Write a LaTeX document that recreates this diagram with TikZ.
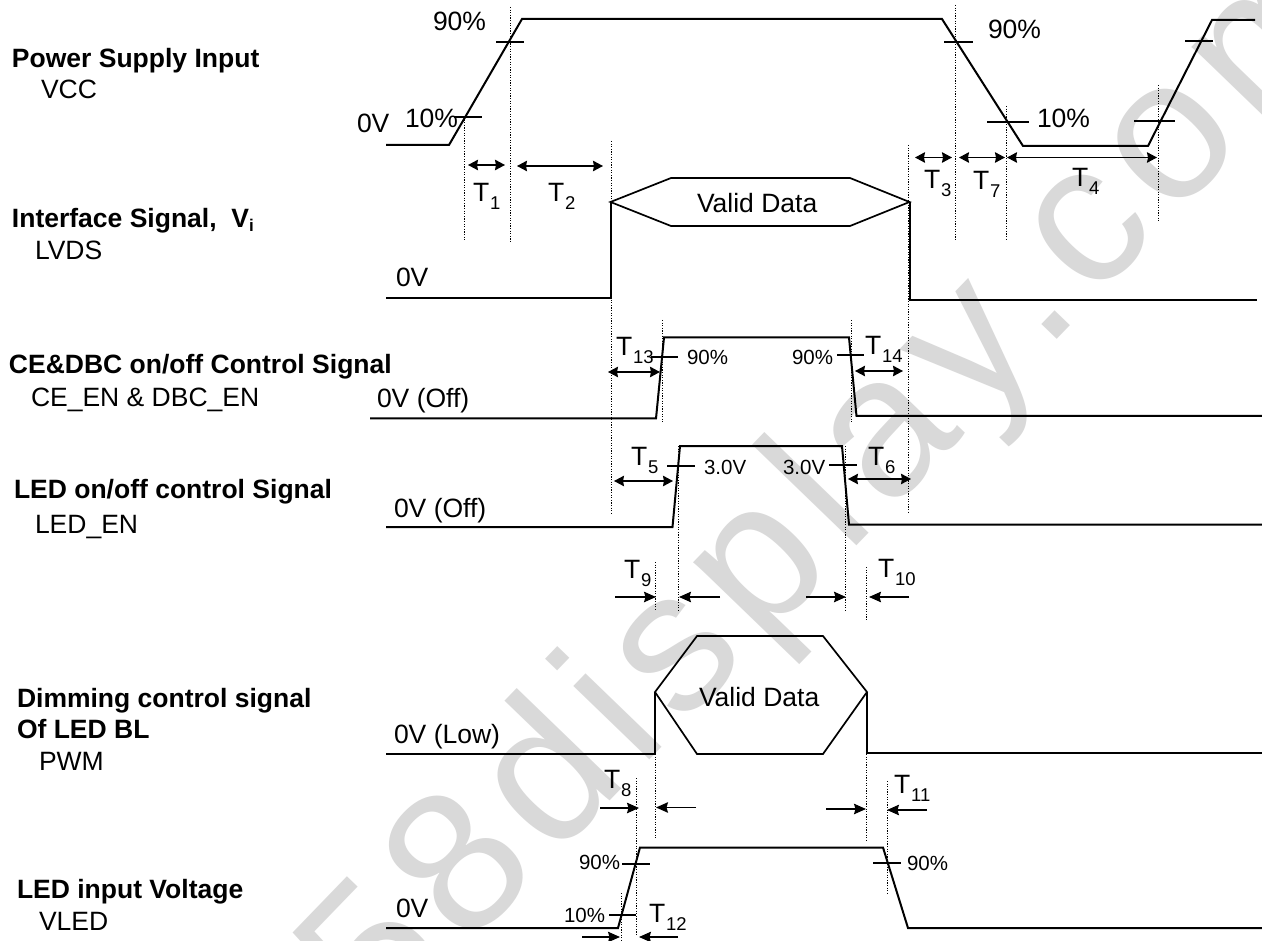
\documentclass[tikz,border=0pt]{standalone}
\usepackage{fontspec}
\setmainfont{Liberation Sans}
\newfontfamily\wmfont[LetterSpace=7]{Liberation Sans}
\usetikzlibrary{arrows.meta}
\newcommand\TT[1]{T\kern1pt\raisebox{-8pt}{\fontsize{18.5}{18}\selectfont #1}}
\definecolor{wm}{HTML}{D9D9D9}
\tikzset{
 sig/.style={line width=2pt,line join=miter},
 tick/.style={line width=1.5pt},
 dots/.style={line width=0.9pt,dash pattern=on 1.2pt off 1.4pt},
 arr/.style={line width=1.4pt,-{Stealth[length=12pt,width=10.5pt,inset=1.5pt]}},
 dbl/.style={line width=1.4pt,{Stealth[length=10pt,width=10.5pt,inset=1pt]}-{Stealth[length=10pt,width=10.5pt,inset=1pt]}},
 lab/.style={anchor=base west,inner sep=0pt,outer sep=0pt},
 big/.style={lab,font=\fontsize{26.5}{28}\selectfont},
 mid/.style={lab,font=\fontsize{26.5}{28}\selectfont},
 small/.style={lab,font=\fontsize{20.5}{24}\selectfont},
 head/.style={lab,font=\fontsize{26.5}{28}\selectfont\bfseries},
 plain/.style={lab,font=\fontsize{26.5}{28}\selectfont},
}
\begin{document}
\begin{tikzpicture}[x=1pt,y=-1pt]
\path[use as bounding box,clip] (0,0) rectangle (1262,941);
\fill[white] (0,0) rectangle (1262,941);
% watermark
\node[lab,rotate=46,text=wm,font=\fontsize{200}{230}\wmfont] (wmark) at (380,1040) {58display.com};
% dotted guides
\foreach \x/\a/\b in {464.5/117/241,510/7/243,611.5/141/515,955.5/5/241,1006.5/106/240,1158.5/85/222,908.5/145/512,
 662/320/422,851.5/320/422,678/446/610,845.5/446/612,655/562/610,866/567/620,655/754/838,866/754/842,636.5/778/935,887/781/895,621.5/893/940}
 \draw[dots] (\x,\a) -- (\x,\b);
% VCC
\draw[sig] (386,145) -- (449,145) -- (522,19) -- (942,19) -- (1023,146) -- (1148,146) -- (1212,20) -- (1255,20);
\foreach \a/\b/\y in {454/482/117,496/524/42,944/973/42,987/1029/122,1134/1175/121,1185/1213/41}
 \draw[tick] (\a,\y) -- (\b,\y);
\draw[dbl] (468,165) -- (505,165);
\draw[dbl] (517,166) -- (603,166);
\draw[dbl] (915,157.5) -- (952,157.5);
\draw[dbl] (959,157.5) -- (1005,157.5);
\draw[dbl] (1007,157.5) -- (1157,157.5);
% Interface
\draw[sig] (386,298) -- (610.5,298) -- (610.5,202);
\draw[line width=1.7pt] (610.5,202) -- (671,178) -- (850,178) -- (909.5,202) -- (850,226) -- (671,226) -- cycle;
\draw[sig] (909.5,202) -- (909.5,300) -- (1256.5,300);
% CE
\draw[sig] (370,418.5) -- (656,418.5) -- (664,337.5) -- (849,337.5) -- (856.5,416) -- (1262,416);
\draw[tick] (651,357) -- (678,357);
\draw[tick] (837,355) -- (864,355);
\draw[dbl] (608,372) -- (660,372);
\draw[dbl] (855,371) -- (903,371);
% LED
\draw[sig] (386,527) -- (672.5,527) -- (680,446) -- (842,446) -- (849,524.5) -- (1262,524.5);
\draw[tick] (667,466) -- (695,466);
\draw[tick] (829,465) -- (857,465);
\draw[dbl] (614,481) -- (673,481);
\draw[dbl] (848,479) -- (911,479);
\draw[arr] (615,597) -- (656,597);
\draw[arr] (720,597) -- (679,597);
\draw[arr] (806,597) -- (846,597);
\draw[arr] (909,597) -- (869,597);
% PWM
\draw[sig] (386,754) -- (655,754) -- (655,692);
\draw[line width=1.7pt] (655,692) -- (697,636) -- (823,636) -- (867,692) -- (823,754) -- (697,754) -- cycle;
\draw[sig] (867,692) -- (867,753) -- (1262,753);
\draw[arr] (600,808) -- (639,808);
\draw[arr] (696,807.5) -- (656,807.5);
\draw[arr] (826,809) -- (866,809);
\draw[arr] (927,810) -- (887,810);
% VLED
\draw[sig] (386,928) -- (618,928) -- (640,847.5) -- (883,847.5) -- (908,928) -- (1262,928);
\foreach \a/\b/\y in {622/650/864,873/901/863,609/636/915}
 \draw[tick] (\a,\y) -- (\b,\y);
\draw[arr] (582,937) -- (620,937);
\draw[arr] (678,937) -- (639,937);
% left labels
\node[head] (h1) at (12,68) {Power Supply Input};
\node[plain] (s1) at (41,99) {VCC};
\node[head] (h2) at (12,228) {Interface Signal,\ \ V\raisebox{-4pt}{\fontsize{17}{17}\selectfont i}};
\node[plain] (s2) at (35,260) {LVDS};
\node[head] (h3) at (9,374) {CE\&DBC on/off Control Signal};
\node[plain] (s3) at (31,407) {CE\_EN \& DBC\_EN};
\node[head] (h4) at (14,498) {LED on/off control Signal};
\node[plain] (s4) at (35,533) {LED\_EN};
\node[head] (h5) at (17,707) {Dimming control signal};
\node[head] (h6) at (17,738) {Of LED BL};
\node[plain] (s5) at (39,770) {PWM};
\node[head] (h7) at (17,898) {LED input Voltage};
\node[plain] (s6) at (39,930) {VLED};
% signal labels
\node[big] (a1) at (433,31) {90\%};
\node[big] (a2) at (405,128) {10\%};
\node[big] (a3) at (357,133) {0V};
\node[big] (a4) at (396,287) {0V};
\node[big] (a5) at (988,39) {90\%};
\node[big] (a6) at (1037,128) {10\%};
\node[big] (v1) at (697,212.5) {Valid Data};
\node[big] (v2) at (699,706) {Valid Data};
\node[big] (o1) at (377,408) {0V (Off)};
\node[big] (o2) at (394,517) {0V (Off)};
\node[big] (o3) at (394,743) {0V (Low)};
\node[big] (o4) at (396,917) {0V};
\node[small] (p1) at (687,365) {90\%};
\node[small] (p2) at (792,365) {90\%};
\node[small] (p3) at (704,475) {3.0V};
\node[small] (p4) at (783,474) {3.0V};
\node[small] (p5) at (579,869) {90\%};
\node[small] (p6) at (564,922) {10\%};
\node[small] (p7) at (907,870) {90\%};
% timing labels
\node[mid] (t1) at (473,202) {\TT{1}};
\node[mid] (t2) at (548,202) {\TT{2}};
\node[mid] (t3) at (924,189) {\TT{3}};
\node[mid] (t7) at (973,190) {\TT{7}};
\node[mid] (t4) at (1072,187) {\TT{4}};
\node[mid] (t13) at (616,356) {\TT{13}};
\node[mid] (t14) at (865,355) {\TT{14}};
\node[mid] (t5) at (631,465) {\TT{5}};
\node[mid] (t6) at (868,465) {\TT{6}};
\node[mid] (t9) at (624,578) {\TT{9}};
\node[mid] (t10) at (878,577) {\TT{10}};
\node[mid] (t8) at (604,788) {\TT{8}};
\node[mid] (t11) at (894,793) {\TT{11}};
\node[mid] (t12) at (649,922) {\TT{12}};
\end{tikzpicture}
\end{document}
